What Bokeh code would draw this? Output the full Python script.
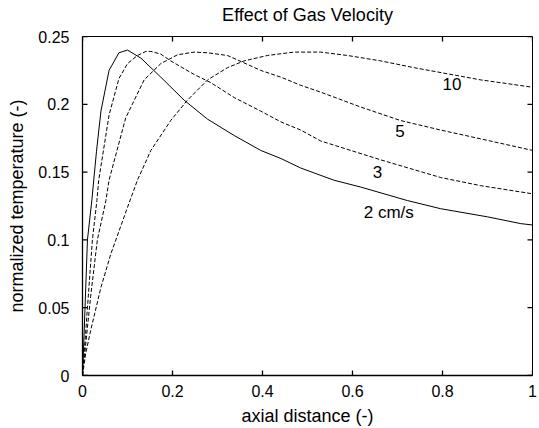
from bokeh.plotting import figure
from bokeh.models import Range1d, FixedTicker, Label
from bokeh.embed import file_html
from bokeh.resources import INLINE

# ---- data ----
x_2 = [0, 0.004, 0.011, 0.021, 0.031, 0.041, 0.059, 0.081, 0.1, 0.13, 0.174, 0.226, 0.278,
       0.337, 0.396, 0.441, 0.485, 0.559, 0.618, 0.722, 0.796, 0.9, 0.974, 1.0]
y_2 = [0, 0.035, 0.1, 0.13, 0.165, 0.195, 0.225, 0.238, 0.240, 0.234, 0.220, 0.203, 0.189,
       0.177, 0.166, 0.160, 0.153, 0.144, 0.139, 0.129, 0.123, 0.117, 0.112, 0.111]

x_3 = [0, 0.011, 0.022, 0.032, 0.036, 0.059, 0.081, 0.1, 0.122, 0.141, 0.152, 0.174, 0.196,
       0.248, 0.285, 0.337, 0.396, 0.441, 0.485, 0.529, 0.663, 0.796, 0.885, 1.0]
y_3 = [0, 0.05, 0.1, 0.129, 0.144, 0.192, 0.219, 0.230, 0.236, 0.239, 0.239, 0.237, 0.232,
       0.222, 0.216, 0.205, 0.195, 0.187, 0.181, 0.173, 0.159, 0.146, 0.140, 0.134]

x_5 = [0, 0.018, 0.033, 0.052, 0.059, 0.096, 0.137, 0.174, 0.211, 0.248, 0.278, 0.322, 0.356,
       0.396, 0.441, 0.485, 0.529, 0.618, 0.707, 0.796, 0.885, 1.0]
y_5 = [0, 0.058, 0.1, 0.129, 0.144, 0.190, 0.218, 0.230, 0.2365, 0.2385, 0.238, 0.236, 0.231,
       0.225, 0.220, 0.214, 0.209, 0.198, 0.188, 0.181, 0.1745, 0.166]

x_10 = [0, 0.007, 0.018, 0.041, 0.063, 0.1, 0.122, 0.152, 0.196, 0.233, 0.278, 0.322, 0.359,
        0.411, 0.470, 0.529, 0.589, 0.663, 0.737, 0.811, 0.885, 1.0]
y_10 = [0, 0.016, 0.033, 0.065, 0.0897, 0.124, 0.144, 0.166, 0.188, 0.203, 0.218, 0.227, 0.232,
        0.236, 0.2385, 0.2385, 0.236, 0.232, 0.227, 0.2225, 0.218, 0.2126]

label_texts = ["2 cm/s", "3", "5", "10"]
label_x = [0.625, 0.645, 0.695, 0.80]
label_y = [0.12, 0.15, 0.18, 0.215]

x_ticks = [0, 0.2, 0.4, 0.6, 0.8, 1.0]
x_tick_labels = ["0", "0.2", "0.4", "0.6", "0.8", "1"]
y_ticks = [0, 0.05, 0.1, 0.15, 0.2, 0.25]
y_tick_labels = ["0", "0.05", "0.1", "0.15", "0.2", "0.25"]

title_text = "Effect of Gas Velocity"

X_MIN, X_MAX = 0, 1
Y_MIN, Y_MAX = 0, 0.25

FONT = "Liberation Sans"
W, H = 539, 428
B_LEFT, B_RIGHT, B_TOP, B_BOTTOM = 82, 7, 36, 53
TICK_PX = 5

p = figure(width=W, height=H, output_backend="svg", toolbar_location=None,
           x_range=Range1d(X_MIN, X_MAX), y_range=Range1d(Y_MIN, Y_MAX),
           min_border_left=B_LEFT, min_border_right=B_RIGHT,
           min_border_top=B_TOP, min_border_bottom=B_BOTTOM,
           x_axis_label="axial distance (-)", y_axis_label="normalized temperature (-)")

p.background_fill_color = "white"
p.border_fill_color = "white"
p.outline_line_color = "black"
p.outline_line_width = 1
p.outline_line_alpha = 1
p.grid.visible = False

for ax, ticks, labels in ((p.xaxis[0], x_ticks, x_tick_labels), (p.yaxis[0], y_ticks, y_tick_labels)):
    ax.ticker = FixedTicker(ticks=ticks)
    ax.major_label_overrides = {t: l for t, l in zip(ticks, labels)}
    ax.major_tick_line_color = None
    ax.minor_tick_line_color = None
    ax.axis_line_color = "black"
    ax.axis_line_width = 1.3
    ax.major_label_text_font = FONT
    ax.major_label_text_font_size = "16px"
    ax.major_label_text_color = "black"
    ax.axis_label_text_font = FONT
    ax.axis_label_text_font_size = "18px"
    ax.axis_label_text_font_style = "normal"
    ax.axis_label_text_color = "black"

p.xaxis[0].major_label_standoff = 3
p.xaxis[0].axis_label_standoff = 6
p.yaxis[0].major_label_standoff = 7
p.yaxis[0].axis_label_standoff = 8

p.title.text = title_text
p.title.align = "center"
p.title.text_font = FONT
p.title.text_font_style = "normal"
p.title.text_font_size = "18px"
p.title.text_color = "black"
p.title.standoff = 2
p.title.padding = dict(left=0, right=0, top=0, bottom=11)

# inward tick marks on all four sides of the box (MATLAB style)
frame_w = W - B_LEFT - B_RIGHT
frame_h = H - B_TOP - B_BOTTOM
tx = TICK_PX / frame_w * (X_MAX - X_MIN)
ty = TICK_PX / frame_h * (Y_MAX - Y_MIN)
n_x, n_y = len(x_ticks), len(y_ticks)
tick_style = dict(line_color="black", line_width=1.3)
p.segment(x0=x_ticks, y0=[Y_MIN] * n_x, x1=x_ticks, y1=[Y_MIN + ty] * n_x, **tick_style)
p.segment(x0=x_ticks, y0=[Y_MAX] * n_x, x1=x_ticks, y1=[Y_MAX - ty] * n_x, **tick_style)
p.segment(x0=[X_MIN] * n_y, y0=y_ticks, x1=[X_MIN + tx] * n_y, y1=y_ticks, **tick_style)
p.segment(x0=[X_MAX] * n_y, y0=y_ticks, x1=[X_MAX - tx] * n_y, y1=y_ticks, **tick_style)

p.line(x_2, y_2, line_color="black", line_width=1)
p.line(x_3, y_3, line_color="black", line_width=1, line_dash="4 2")
p.line(x_5, y_5, line_color="black", line_width=1, line_dash="4 2")
p.line(x_10, y_10, line_color="black", line_width=1, line_dash="4 2")

for t, lx, ly in zip(label_texts, label_x, label_y):
    p.add_layout(Label(x=lx, y=ly, text=t, text_font=FONT, text_font_size="17px",
                       text_baseline="middle", text_align="left", text_color="black"))

open("out.html", "w").write(file_html(p, INLINE))
